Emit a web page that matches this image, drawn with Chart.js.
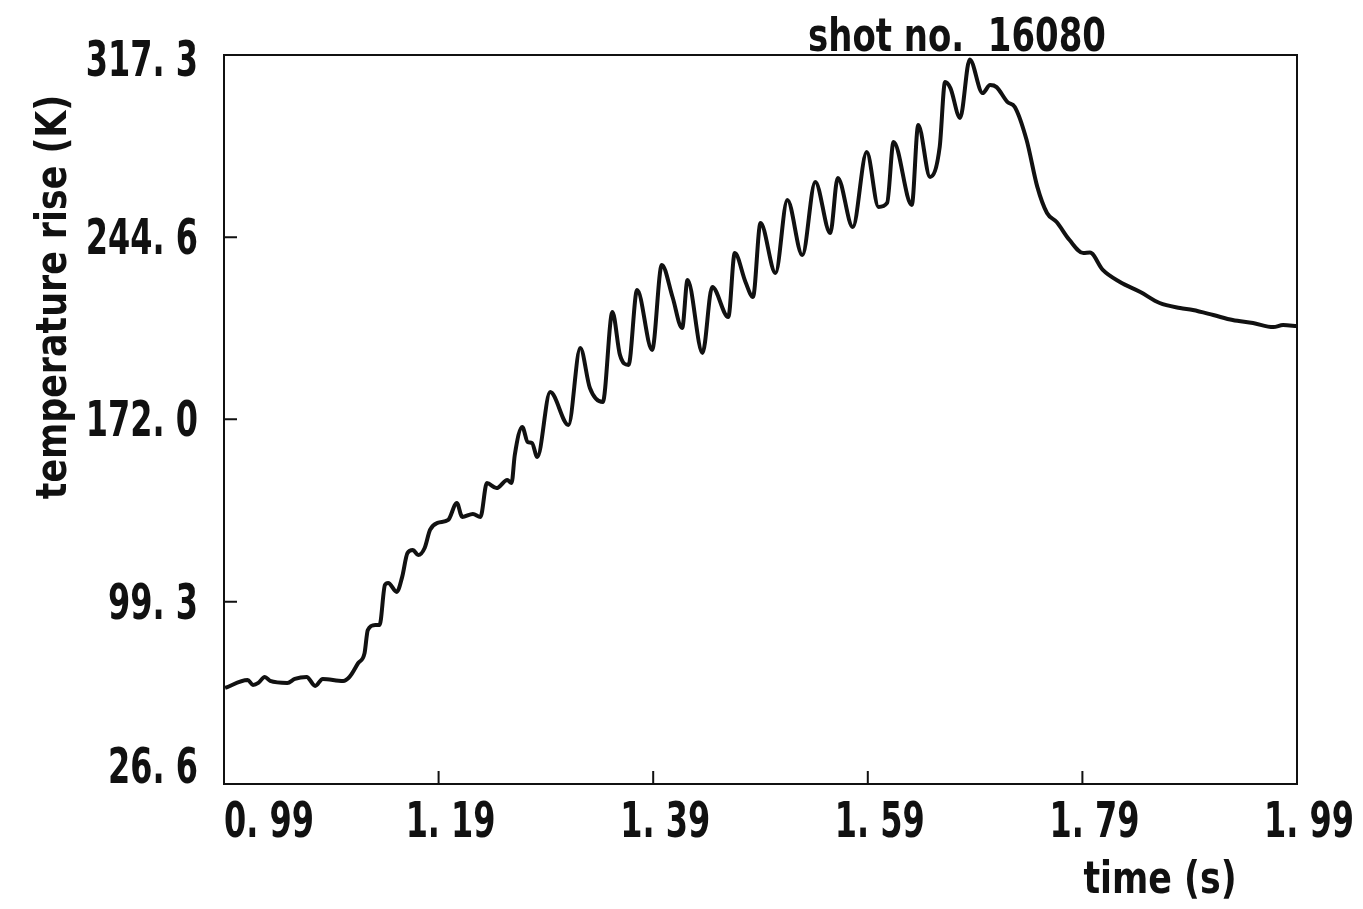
<!DOCTYPE html>
<html lang="en">
<head>
  <meta charset="UTF-8" />
  <title>shot no. 16080</title>
  <script src="https://cdn.jsdelivr.net/npm/chart.js"></script>
  <style>
    body {
      margin: 0;
      background-color: #ffffff;
    }
    #wrap {
      width: 1363px;
      height: 909px;
    }
  </style>
</head>
<body>
  <div id="wrap"><canvas id="tempChart" width="1363" height="909"></canvas></div>

  <script>
    // time (s) and temperature rise (K)
    const times = [
      0.991, 1.012, 1.017, 1.022, 1.028, 1.033, 1.049, 1.056, 1.067, 1.075,
      1.082, 1.101, 1.107, 1.115, 1.121, 1.124, 1.131, 1.135, 1.140, 1.143,
      1.151, 1.156, 1.161, 1.166, 1.171, 1.177, 1.182, 1.189, 1.199, 1.207,
      1.212, 1.222, 1.229, 1.235, 1.244, 1.254, 1.258, 1.261, 1.268, 1.273,
      1.277, 1.282, 1.294, 1.311, 1.322, 1.331, 1.343, 1.352, 1.359, 1.367,
      1.375, 1.389, 1.398, 1.408, 1.417, 1.422, 1.436, 1.445, 1.460, 1.466,
      1.476, 1.483, 1.490, 1.504, 1.515, 1.529, 1.541, 1.555, 1.562, 1.576,
      1.589, 1.600, 1.608, 1.614, 1.631, 1.637, 1.648, 1.657, 1.662, 1.667,
      1.676, 1.685, 1.697, 1.704, 1.710, 1.720, 1.727, 1.738, 1.748, 1.757,
      1.766, 1.778, 1.791, 1.797, 1.809, 1.825, 1.844, 1.862, 1.881, 1.893,
      1.912, 1.930, 1.949, 1.968, 1.977, 1.990
    ];
    const tempRise = [
      64.9, 68.1, 66.1, 66.9, 69.3, 67.7, 66.9, 68.5, 69.3, 65.7,
      68.5, 67.7, 69.3, 74.8, 78.8, 88.0, 90.0, 90.0, 106.0, 106.8,
      103.2, 109.1, 118.7, 119.9, 117.9, 120.7, 127.9, 130.7, 131.9, 138.7,
      133.1, 134.3, 133.1, 146.6, 144.6, 147.8, 146.6, 157.8, 169.0, 163.0,
      162.6, 157.0, 182.9, 169.8, 200.5, 184.5, 178.9, 214.8, 197.7, 193.7,
      223.6, 199.7, 233.6, 220.8, 208.4, 227.6, 198.5, 224.8, 212.8, 238.3,
      226.8, 220.8, 250.3, 230.4, 259.5, 237.5, 266.7, 246.3, 268.3, 248.7,
      278.6, 256.7, 258.3, 282.6, 257.5, 289.4, 268.7, 280.6, 306.5, 304.1,
      292.2, 315.5, 302.1, 305.3, 304.5, 298.6, 296.6, 283.4, 264.7, 254.3,
      250.7, 243.5, 238.3, 238.5, 231.6, 226.8, 222.8, 218.4, 216.4, 215.6,
      213.6, 211.6, 210.4, 208.8, 209.6, 209.2
    ];
    const xTicks = [0.99, 1.19, 1.39, 1.59, 1.79, 1.99];
    const yTicks = [26.6, 99.3, 172.0, 244.6, 317.3];

    const FONT = '"Liberation Sans Narrow", "DejaVu Sans Condensed", "Arial Narrow", sans-serif';

    // draw text squeezed sideways, to get the narrow bold look of the original
    function squeezed(ctx, s, x, y, align, sx) {
      ctx.save();
      ctx.translate(x, y);
      ctx.scale(sx, 1);
      ctx.textAlign = align;
      ctx.fillText(s, 0, 0);
      ctx.restore();
    }

    // frame, inward ticks and all text, placed with the chart's scales
    const framePlugin = {
      id: 'frame',
      afterDraw(chart) {
        const ctx = chart.ctx;
        const x = chart.scales.x;
        const y = chart.scales.y;
        const left = x.getPixelForValue(0.99);
        const right = x.getPixelForValue(1.99);
        const top = y.getPixelForValue(317.3);
        const bottom = y.getPixelForValue(26.6);

        ctx.save();
        ctx.strokeStyle = '#111';
        ctx.lineWidth = 2;
        ctx.strokeRect(left, top, right - left, bottom - top);

        ctx.beginPath();
        xTicks.slice(1, -1).forEach(v => {
          const px = x.getPixelForValue(v);
          ctx.moveTo(px, bottom);
          ctx.lineTo(px, bottom - 13);
        });
        yTicks.slice(1, -1).forEach(v => {
          const py = y.getPixelForValue(v);
          ctx.moveTo(left, py);
          ctx.lineTo(left + 13, py);
        });
        ctx.stroke();

        ctx.fillStyle = '#111';
        ctx.font = 'bold 50px ' + FONT;
        ctx.textBaseline = 'middle';

        // x tick labels
        xTicks.forEach((v, i) => {
          const px = x.getPixelForValue(v);
          const txt = v.toFixed(2).replace('.', '. ');
          if (i === 0) squeezed(ctx, txt, px, bottom + 40, 'left', 0.71);
          else squeezed(ctx, txt, px + 12, bottom + 40, 'center', 0.71);
        });

        // y tick labels
        yTicks.forEach((v, i) => {
          const py = y.getPixelForValue(v);
          let off = 4;
          if (i === 0) off = -14;
          if (i === yTicks.length - 1) off = 8;
          squeezed(ctx, v.toFixed(1).replace('.', '. '), left - 26, py + off, 'right', 0.71);
        });

        // titles
        ctx.textBaseline = 'alphabetic';
        ctx.font = 'bold 46px ' + FONT;
        squeezed(ctx, 'shot no.  16080', 957, 51, 'center', 0.82);
        ctx.font = 'bold 45px ' + FONT;
        squeezed(ctx, 'time (s)', 1160, 893, 'center', 0.86);

        ctx.translate(66, 297);
        ctx.rotate(-Math.PI / 2);
        ctx.font = 'bold 43px ' + FONT;
        squeezed(ctx, 'temperature rise (K)', 0, 0, 'center', 0.9);
        ctx.restore();
      }
    };

    const ctx = document.getElementById('tempChart').getContext('2d');
    new Chart(ctx, {
      type: 'line',
      data: {
        datasets: [{
          label: 'temperature rise',
          data: times.map((t, i) => ({ x: t, y: tempRise[i] })),
          borderColor: '#111',
          borderWidth: 4,
          pointRadius: 0,
          cubicInterpolationMode: 'monotone',
          fill: false
        }]
      },
      options: {
        responsive: false,
        animation: false,
        layout: {
          padding: { left: 0, top: 55, right: 66, bottom: 0 }
        },
        plugins: {
          legend: { display: false },
          tooltip: { enabled: false }
        },
        scales: {
          x: {
            type: 'linear',
            min: 0.99,
            max: 1.99,
            afterBuildTicks: axis => { axis.ticks = xTicks.map(v => ({ value: v })); },
            afterFit: axis => { axis.height = 125; },
            ticks: { display: false },
            grid: { display: false },
            border: { display: false }
          },
          y: {
            min: 26.6,
            max: 317.3,
            afterBuildTicks: axis => { axis.ticks = yTicks.map(v => ({ value: v })); },
            afterFit: axis => { axis.width = 224; },
            ticks: { display: false },
            grid: { display: false },
            border: { display: false }
          }
        }
      },
      plugins: [framePlugin]
    });
  </script>
</body>
</html>
